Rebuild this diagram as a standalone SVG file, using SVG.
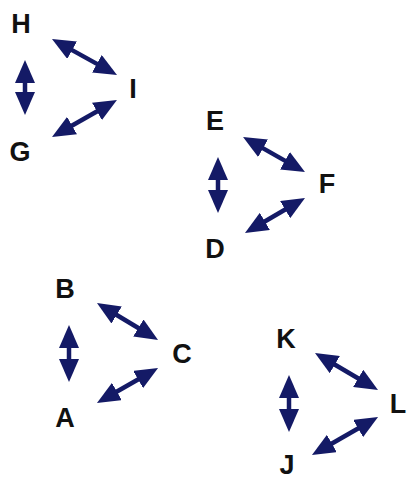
<svg xmlns="http://www.w3.org/2000/svg" width="407" height="480" viewBox="0 0 407 480">
<style>
.lbl{font-family:"Liberation Sans",Arial,sans-serif;font-weight:bold;font-size:27px;fill:#111;text-anchor:middle}
.arr{stroke:#141a66;stroke-width:4.5;fill:none;marker-start:url(#ah);marker-end:url(#ah)}
</style>
<defs>
<marker id="ah" markerUnits="userSpaceOnUse" markerWidth="23" markerHeight="20" refX="15" refY="10" orient="auto-start-reverse" viewBox="0 0 23 20">
<path d="M0,0 L23,10 L0,20 z" fill="#141a66"/>
</marker>
</defs>
<rect width="407" height="480" fill="#fff"/>
<g id="connectors">
<line class="arr" x1="25" y1="68" x2="25" y2="107"/>
<line class="arr" x1="59" y1="42.9" x2="110" y2="71.1"/>
<line class="arr" x1="59" y1="133" x2="110" y2="104"/>
<line class="arr" x1="218" y1="165" x2="218" y2="205"/>
<line class="arr" x1="250" y1="140.9" x2="298" y2="168.1"/>
<line class="arr" x1="251.9" y1="229" x2="298.1" y2="202"/>
<line class="arr" x1="69" y1="333" x2="69" y2="374"/>
<line class="arr" x1="103.8" y1="307.2" x2="151.2" y2="335.8"/>
<line class="arr" x1="103.9" y1="399" x2="151.1" y2="372"/>
<line class="arr" x1="289" y1="383" x2="289" y2="424"/>
<line class="arr" x1="321.9" y1="357" x2="371.1" y2="386"/>
<line class="arr" x1="318.9" y1="451" x2="371.1" y2="421"/>
</g>
<g id="H"><text class="lbl" x="21" y="33">H</text></g>
<g id="I"><text class="lbl" x="133" y="98">I</text></g>
<g id="G"><text class="lbl" x="20" y="161">G</text></g>
<g id="E"><text class="lbl" x="215" y="130">E</text></g>
<g id="F"><text class="lbl" x="327" y="193">F</text></g>
<g id="D"><text class="lbl" x="215" y="258">D</text></g>
<g id="B"><text class="lbl" x="65" y="298">B</text></g>
<g id="C"><text class="lbl" x="182" y="363">C</text></g>
<g id="A"><text class="lbl" x="65" y="427">A</text></g>
<g id="K"><text class="lbl" x="286" y="348">K</text></g>
<g id="L"><text class="lbl" x="398" y="413">L</text></g>
<g id="J"><text class="lbl" x="287" y="474">J</text></g>
</svg>
